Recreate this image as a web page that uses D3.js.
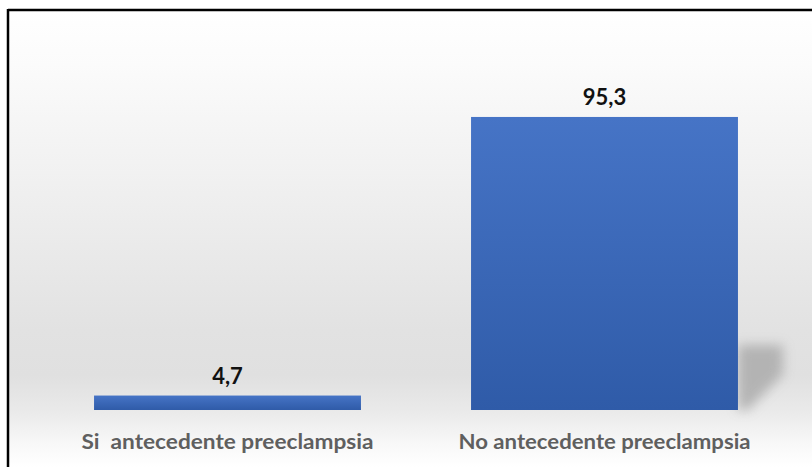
<!DOCTYPE html>
<html><head><meta charset="utf-8">
<script src="https://cdn.jsdelivr.net/npm/d3@7/dist/d3.min.js"></script>
<style>html,body{margin:0;padding:0;background:#fff;}svg{display:block;}</style>
</head><body>
<script>
const categories = ["Si  antecedente preeclampsia", "No antecedente preeclampsia"];
const values = [4.7, 95.3];
const valueLabels = ["4,7", "95,3"];

const W = 812, H = 467;
const svg = d3.select("body").append("svg").attr("width", W).attr("height", H);
const defs = svg.append("defs");

const bg = defs.append("linearGradient").attr("id","bg").attr("x1",0).attr("y1",0).attr("x2",0).attr("y2",1);
[[0,"#ffffff"],[0.12,"#fbfbfb"],[0.45,"#ededed"],[0.7,"#e2e2e2"],[0.8,"#e0e0e0"],[0.88,"#eaeaea"],[0.95,"#f8f8f8"],[1,"#ffffff"]]
  .forEach(([o,c])=>bg.append("stop").attr("offset",o).attr("stop-color",c));

const barG = defs.append("linearGradient").attr("id","barg").attr("x1",0).attr("y1",0).attr("x2",0).attr("y2",1);
[[0,"#4674c6"],[1,"#2f5ba8"]].forEach(([o,c])=>barG.append("stop").attr("offset",o).attr("stop-color",c));

const blur = defs.append("filter").attr("id","blur").attr("x","-50%").attr("y","-50%").attr("width","200%").attr("height","200%");
blur.append("feGaussianBlur").attr("stdDeviation",6);

svg.append("rect").attr("x",8).attr("y",10).attr("width",W-8).attr("height",H-10).attr("fill","url(#bg)");
svg.append("line").attr("x1",8).attr("y1",10).attr("x2",W).attr("y2",10).attr("stroke","#000").attr("stroke-width",2.5);
svg.append("line").attr("x1",8).attr("y1",9).attr("x2",8).attr("y2",H).attr("stroke","#000").attr("stroke-width",2.5);

const x = d3.scaleBand().domain(categories).range([39, 793]).paddingInner(0.292).paddingOuter(0.146);
const y = d3.scaleLinear().domain([0, 100]).range([410, 102.5]);

svg.append("g").selectAll("path").data(values).join("path")
  .attr("d",(d,i)=>{
    const x1 = x(categories[i]) + x.bandwidth();
    const top = Math.max(y(d), 345);
    const h = 410 - top;
    if (h < 20) return "";
    return `M${x1},${top} L${x1+45},${top} L${x1+45},${410-h*0.55} L${x1+10},410 L${x1},410 Z`;
  })
  .attr("fill","#a0a0a0").attr("opacity",0.7).attr("filter","url(#blur)");

svg.append("g").selectAll("rect").data(values).join("rect")
  .attr("x",(d,i)=>x(categories[i]))
  .attr("y",d=>y(d))
  .attr("width",x.bandwidth())
  .attr("height",d=>y(0)-y(d))
  .attr("fill","url(#barg)");

svg.append("g").selectAll("text").data(values).join("text")
  .attr("x",(d,i)=>x(categories[i])+x.bandwidth()/2)
  .attr("y",d=>y(d)-12)
  .attr("text-anchor","middle")
  .attr("font-family","Lato, 'Open Sans', sans-serif")
  .attr("font-weight","bold")
  .attr("font-size",22)
  .attr("fill","#111")
  .text((d,i)=>valueLabels[i]);

const xAxis = d3.axisBottom(x).tickSize(0).tickPadding(0);
const ax = svg.append("g").attr("transform","translate(0,434)").call(xAxis);
ax.select(".domain").remove();
ax.selectAll("text")
  .attr("dy","0.71em")
  .attr("font-family","Lato, 'Open Sans', sans-serif")
  .attr("font-weight","bold")
  .attr("font-size",21)
  .attr("fill","#5f5f5f")
  .style("white-space","pre")
  .attr("textLength",292)
  .attr("lengthAdjust","spacingAndGlyphs");
</script>
</body></html>
